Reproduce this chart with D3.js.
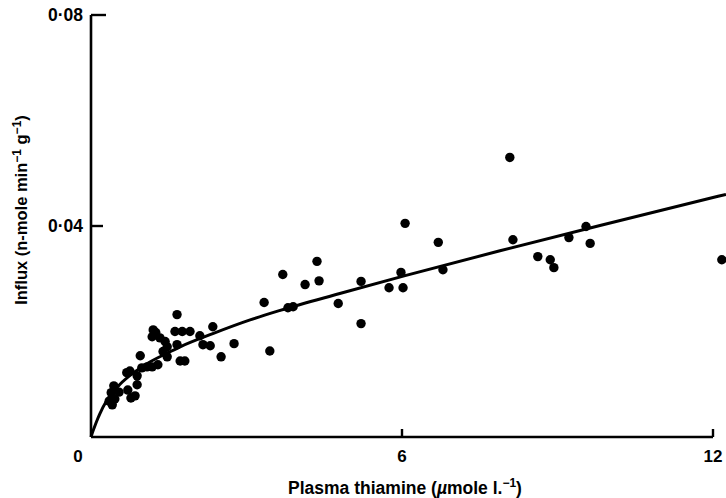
<!DOCTYPE html>
<html><head><meta charset="utf-8">
<script src="https://cdn.jsdelivr.net/npm/d3@7"></script>
<style>body{margin:0;background:#fff}svg{display:block}text{font-family:"Liberation Sans",Arial,sans-serif;fill:#000}</style>
</head><body>
<svg id="c" width="726" height="498"></svg>
<script>
// Observed points: plasma thiamine (µmol/l) and influx (nmol/min/g)
const pointX = [8.08,6.06,8.14,8.62,8.86,8.93,9.22,9.55,9.63,12.17,6.70,6.79,5.98,5.75,6.02,5.21,5.21,4.77,4.40,4.36,4.13,3.70,3.80,3.90,3.34,3.45,2.76,2.51,
  1.66,2.35,1.62,1.76,1.91,1.20,1.25,1.18,1.33,1.43,1.47,1.66,2.10,2.16,2.30,1.72,1.81,1.47,1.29,0.95,1.08,1.18,0.98,0.69,0.89,0.85,0.77,0.71,
  0.44,0.39,0.54,0.46,0.41,0.35,0.89,1.39,0.75];
const pointY = [0.0530,0.0405,0.0374,0.0342,0.0336,0.0321,0.0378,0.0399,0.0367,0.0336,0.0369,0.0317,0.0312,0.0283,0.0283,0.0295,0.0215,0.0253,0.0296,0.0333,0.0289,0.0308,0.0245,0.0247,0.0255,0.0163,0.0177,0.0152,
  0.0232,0.0209,0.0200,0.0200,0.0200,0.0203,0.0198,0.0190,0.0188,0.0181,0.0171,0.0175,0.0192,0.0175,0.0173,0.0144,0.0144,0.0152,0.0137,0.0154,0.0133,0.0133,0.0131,0.0122,0.0099,0.0078,0.0074,0.0089,
  0.0097,0.0084,0.0085,0.0072,0.0061,0.0068,0.0116,0.0162,0.0125];
// Fitted curve
const curveX = [0,0.02,0.06,0.135,0.17,0.31,0.56,0.81,1.08,1.47,1.72,2.35,3.07,3.65,4.80,6.06,7.89,9.82,12.0,12.25];
const curveY = [0,0.0006,0.0017,0.0036,0.0044,0.0070,0.0100,0.0121,0.0139,0.0159,0.0171,0.0196,0.0222,0.0240,0.0272,0.0306,0.0353,0.0401,0.0454,0.0460];
const xTicks = [6,12];
const xTickLabels = ["6","12"];
const yTicks = [0.04,0.08];
const yTickLabels = ["0·04","0·08"];

const svg = d3.select("#c");
const x = d3.scaleLinear().domain([0,12]).range([91,713]);
const y = d3.scaleLinear().domain([0,0.08]).range([437,15]);

// axes
const ax = svg.append("g");
ax.append("line").attr("x1",x(0)).attr("x2",x(12)).attr("y1",y(0)).attr("y2",y(0)).attr("stroke","#000").attr("stroke-width",2.6);
ax.append("line").attr("x1",x(0)).attr("x2",x(0)).attr("y1",y(0)).attr("y2",y(0.08)).attr("stroke","#000").attr("stroke-width",2.6);
xTicks.forEach((t,i)=>{
  ax.append("line").attr("x1",x(t)).attr("x2",x(t)).attr("y1",y(0)).attr("y2",y(0)-8).attr("stroke","#000").attr("stroke-width",2.4);
  ax.append("text").attr("x",x(t)).attr("y",y(0)+25).attr("text-anchor","middle").attr("font-size",17).attr("font-weight","bold").text(xTickLabels[i]);
});
ax.append("text").attr("x",x(0)-13).attr("y",y(0)+25).attr("text-anchor","middle").attr("font-size",17).attr("font-weight","bold").text("0");
yTicks.forEach((t,i)=>{
  ax.append("line").attr("x1",x(0)).attr("x2",x(0)+(t===0.08?15:12)).attr("y1",y(t)).attr("y2",y(t)).attr("stroke","#000").attr("stroke-width",2.4);
  ax.append("text").attr("x",x(0)-8).attr("y",y(t)+6).attr("text-anchor","end").attr("font-size",17.5).attr("font-weight","bold").text(yTickLabels[i]);
});

// x label
const xl = svg.append("text").attr("x",405).attr("y",494).attr("text-anchor","middle").attr("font-size",17.5).attr("font-weight","bold");
xl.append("tspan").text("Plasma thiamine (");
xl.append("tspan").attr("font-style","italic").text("µ");
xl.append("tspan").text("mole l.");
xl.append("tspan").attr("dy",-7).attr("font-size",12).text("−1");
xl.append("tspan").attr("dy",7).text(")");

// y label
const yl = svg.append("text").attr("transform","translate(27,210) rotate(-90)").attr("text-anchor","middle").attr("font-size",16.5).attr("font-weight","bold");
yl.append("tspan").text("Influx (n-mole min");
yl.append("tspan").attr("dy",-6).attr("font-size",12).text("−1");
yl.append("tspan").attr("dy",6).text(" g");
yl.append("tspan").attr("dy",-6).attr("font-size",12).text("−1");
yl.append("tspan").attr("dy",6).text(")");

// curve
const line = d3.line().x(d=>x(d[0])).y(d=>y(d[1])).curve(d3.curveMonotoneX);
svg.append("path").datum(curveX.map((v,i)=>[v,curveY[i]])).attr("d",line).attr("fill","none").attr("stroke","#000").attr("stroke-width",3);

// points
svg.append("g").selectAll("circle").data(pointX.map((v,i)=>[v,pointY[i]])).join("circle")
  .attr("cx",d=>x(d[0])).attr("cy",d=>y(d[1])).attr("r",4.7).attr("fill","#000");
</script>
</body></html>
